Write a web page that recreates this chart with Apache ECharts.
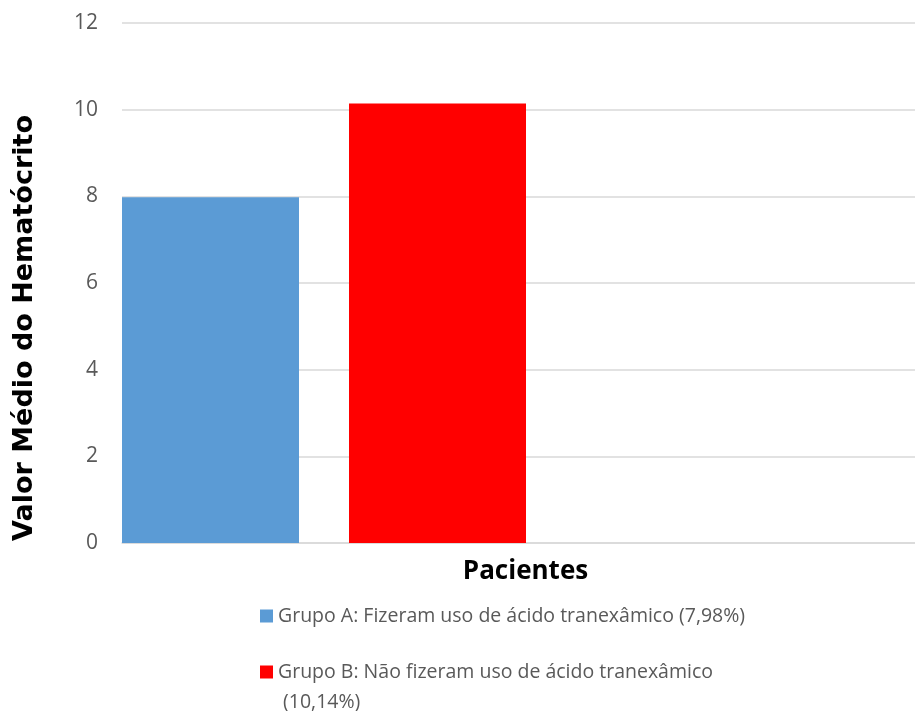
<!DOCTYPE html>
<html>
<head>
<meta charset="utf-8">
<script src="https://cdn.jsdelivr.net/npm/echarts@6/dist/echarts.min.js"></script>
<style>
  html, body { margin: 0; padding: 0; background: #fff; }
  #chart { width: 915px; height: 711px; }
</style>
</head>
<body>
<div id="chart"></div>
<script>
// dados
var categorias = ['Pacientes'];
var grupoA = [7.98];
var grupoB = [10.14];
var nomeA = 'Grupo A: Fizeram uso de ácido tranexâmico (7,98%)';
var nomeB = 'Grupo B: Não fizeram uso de ácido tranexâmico';
var nomeB2 = ' (10,14%)';
var yTicks = [0, 2, 4, 6, 8, 10, 12];

var cinza = '#595959';

var chart = echarts.init(document.getElementById('chart'));

var legendaBase = {
    orient: 'vertical',
    left: 260,
    padding: 0,
    itemWidth: 13,
    itemHeight: 13,
    icon: 'rect',
    selectedMode: false,
    textStyle: { color: cinza, fontSize: 19.5, fontFamily: 'Open Sans', lineHeight: 30 }
};

var option = {
    animation: false,
    grid: { left: 122, right: 0, top: 23, bottom: 168 },
    legend: [
        extendObj(legendaBase, { top: 601, data: [nomeA] }),
        extendObj(legendaBase, {
            top: 627,
            data: [nomeB],
            // linha vazia em cima para o ícone ficar alinhado com a 1ª linha
            formatter: function (name) { return '\n' + name + '\n' + nomeB2; }
        })
    ],
    xAxis: {
        type: 'category',
        data: categorias,
        name: 'Pacientes',
        nameLocation: 'middle',
        nameGap: 16,
        nameTextStyle: { color: '#000', fontSize: 26, fontWeight: 'bold', fontFamily: 'Open Sans', padding: [0, 0, 0, 14] },
        axisLine: { lineStyle: { color: '#d9d9d9', width: 1.5 } },
        axisTick: { show: false },
        axisLabel: { show: false }
    },
    yAxis: {
        type: 'value',
        min: yTicks[0],
        max: yTicks[yTicks.length - 1],
        interval: 2,
        name: 'Valor Médio do Hematócrito',
        nameLocation: 'middle',
        nameGap: 84,
        nameTextStyle: { color: '#000', fontSize: 27, fontWeight: 'bold', fontFamily: 'DejaVu Sans', padding: [0, 90, 0, 0] },
        axisLine: { show: false },
        axisTick: { show: false },
        axisLabel: { color: cinza, fontSize: 21, fontFamily: 'Open Sans', margin: 24 },
        splitLine: { lineStyle: { color: '#d9d9d9', width: 1.5 } }
    },
    series: [
        {
            name: nomeA,
            type: 'bar',
            data: grupoA,
            barWidth: 177,
            barGap: '28.25%',
            itemStyle: { color: '#5b9bd5' }
        },
        {
            name: nomeB,
            type: 'bar',
            data: grupoB,
            barWidth: 177,
            itemStyle: { color: '#ff0000' }
        },
        {
            // espaço vazio à direita, como no gráfico original
            name: 'vazio',
            type: 'bar',
            data: [null],
            barWidth: 339,
            silent: true
        }
    ]
};

function extendObj(a, b) {
    var r = {};
    for (var k in a) r[k] = a[k];
    for (var k2 in b) r[k2] = b[k2];
    return r;
}

chart.setOption(option);
</script>
</body>
</html>
